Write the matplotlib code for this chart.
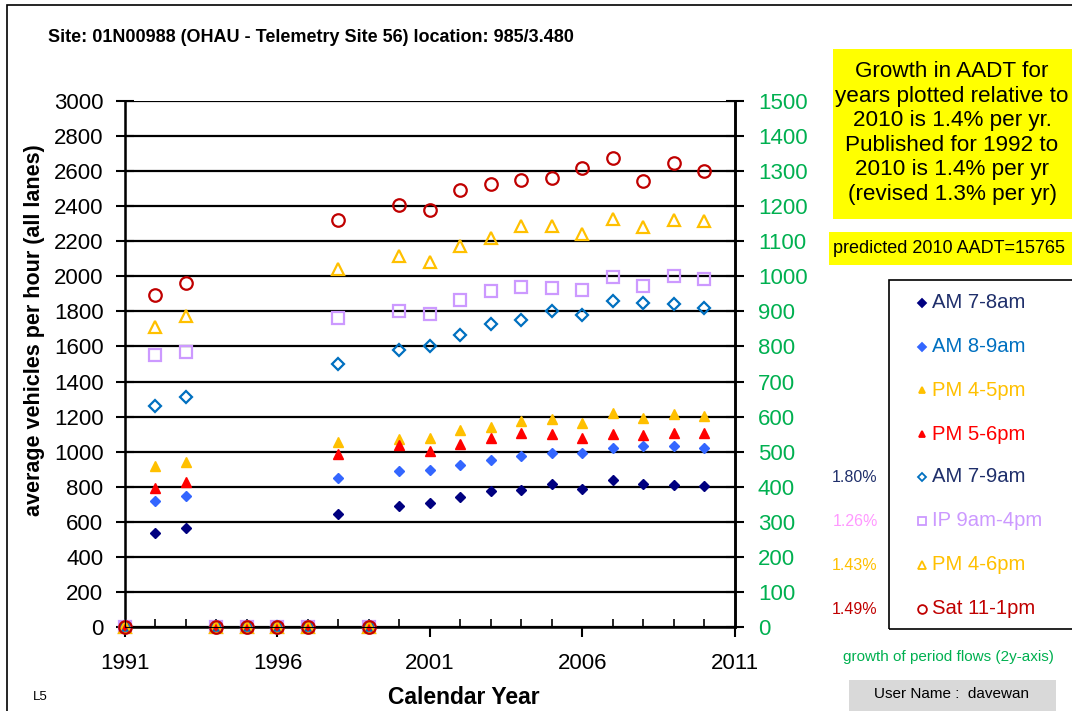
import numpy as np
import matplotlib.pyplot as plt
from matplotlib.patches import Rectangle
from matplotlib.lines import Line2D

plt.rcParams['font.family'] = ['Liberation Sans', 'DejaVu Sans']

# Datos (0 = años sin conteo)
years = [1991, 1992, 1993, 1994, 1995, 1996, 1997, 1998, 1999,
         2000, 2001, 2002, 2003, 2004, 2005, 2006, 2007, 2008, 2009, 2010]
am_7_8 = [0, 537, 565, 0, 0, 0, 0, 644, 0,
          692, 705, 739, 774, 783, 816, 789, 839, 818, 812, 804]
am_8_9 = [0, 720, 747, 0, 0, 0, 0, 852, 0,
          888, 896, 924, 953, 974, 991, 991, 1023, 1031, 1035, 1019]
pm_4_5 = [0, 919, 942, 0, 0, 0, 0, 1053, 0,
          1075, 1077, 1126, 1141, 1176, 1187, 1162, 1222, 1191, 1214, 1204]
pm_5_6 = [0, 791, 827, 0, 0, 0, 0, 986, 0,
          1037, 1004, 1042, 1077, 1109, 1100, 1077, 1103, 1094, 1107, 1109]
am_7_9 = [0, 1261, 1314, 0, 0, 0, 0, 1498, 0,
          1580, 1601, 1664, 1729, 1753, 1805, 1780, 1860, 1847, 1843, 1822]
ip_9_4 = [0, 1549, 1566, 0, 0, 0, 0, 1765, 0,
          1805, 1786, 1866, 1917, 1937, 1931, 1923, 1996, 1944, 1999, 1982]
pm_4_6 = [0, 1713, 1773, 0, 0, 0, 0, 2040, 0,
          2118, 2081, 2171, 2219, 2287, 2287, 2242, 2327, 2284, 2324, 2316]
sat_11_1 = [0, 1893, 1964, 0, 0, 0, 0, 2322, 0,
            2409, 2381, 2493, 2526, 2552, 2562, 2615, 2672, 2543, 2644, 2602]

labels = ['AM 7-8am', 'AM 8-9am', 'PM 4-5pm', 'PM 5-6pm',
          'AM 7-9am', 'IP 9am-4pm', 'PM 4-6pm', 'Sat 11-1pm']
growth = ['', '', '', '', '1.80%', '1.26%', '1.43%', '1.49%']

series = [am_7_8, am_8_9, pm_4_5, pm_5_6, am_7_9, ip_9_4, pm_4_6, sat_11_1]
# (marcador, color, relleno, tamaño, color de texto)
styles = [('D', '#000080', True, 5, '#1F2F6B'),
          ('D', '#3366FF', True, 5, '#0070C0'),
          ('^', '#FFC000', True, 7, '#FFC000'),
          ('^', '#FF0000', True, 7, '#FF0000'),
          ('D', '#0070C0', False, 6.5, '#1F2F6B'),
          ('s', '#CC99FF', False, 9, '#CC99FF'),
          ('^', '#FFC000', False, 9, '#FFC000'),
          ('o', '#C00000', False, 9, '#C00000')]
growth_colors = ['k', 'k', 'k', 'k', '#1F2F6B', '#FF99FF', '#FFC000', '#C00000']

fig = plt.figure(figsize=(10.72, 7.11), dpi=100)
ax = fig.add_axes([0.1166, 0.1181, 0.569, 0.7399])

for ys, (m, c, filled, ms, _) in zip(series, styles):
    ax.plot(years, ys, linestyle='none', marker=m, markersize=ms,
            markerfacecolor=c if filled else 'none', markeredgecolor=c,
            markeredgewidth=1.0 if filled else 1.6, clip_on=False, zorder=3)

ax.set_xlim(1991, 2011)
ax.set_ylim(0, 3000)
ax.set_yticks(np.arange(0, 3001, 200))
ax.set_xticks([1991, 1996, 2001, 2006, 2011])
ax.set_xticks(np.arange(1991, 2012, 1), minor=True)
ax.grid(axis='y', color='black', linewidth=1.6)
ax.tick_params(axis='y', labelsize=16, length=13, width=1.5,
               direction='inout', pad=9)
ax.tick_params(axis='x', which='major', labelsize=16, length=7, width=1.5,
               direction='out', pad=12)
ax.tick_params(axis='x', which='minor', length=6, width=1.2, direction='in')
for s in ['left', 'bottom', 'right']:
    ax.spines[s].set_linewidth(1.8)
ax.spines['top'].set_visible(False)

ax2 = ax.twinx()
ax2.set_ylim(0, 1500)
ax2.set_yticks(np.arange(0, 1501, 100))
ax2.tick_params(axis='y', labelsize=16, colors='black', labelcolor='#00B050',
                length=13, width=1.5, direction='inout', pad=10)
ax2.spines['right'].set_linewidth(1.8)
ax2.spines['top'].set_visible(False)

fig.text(35 / 1072, 1 - 330 / 711, 'average vehicles per hour (all lanes)',
         fontsize=15.5, fontweight='bold', rotation=90, ha='center', va='center')
fig.text(464 / 1072, 1 - 697 / 711, 'Calendar Year', fontsize=16.5,
         fontweight='bold', ha='center', va='center')

# borde del gráfico
fig.patches.append(Rectangle((7 / 1072, -0.1), 1.2, 1 - 5 / 711 + 0.1,
                             transform=fig.transFigure, fill=False,
                             edgecolor='black', linewidth=1.2))

fig.text(48 / 1072, 1 - 38 / 711,
         'Site: 01N00988 (OHAU - Telemetry Site 56) location: 985/3.480',
         fontsize=13, fontweight='bold', va='center', ha='left')

# cajas amarillas
fig.patches.append(Rectangle((833 / 1072, 1 - 219 / 711), 0.3, 170 / 711,
                             transform=fig.transFigure, facecolor='#FFFF00',
                             edgecolor='none'))
fig.text(952 / 1072, 1 - 133 / 711,
         'Growth in AADT for\nyears plotted relative to\n2010 is 1.4% per yr.\n'
         'Published for 1992 to\n2010 is 1.4% per yr\n(revised 1.3% per yr)',
         fontsize=16.2, ha='center', va='center', linespacing=1.22)
fig.patches.append(Rectangle((829 / 1072, 1 - 265 / 711), 0.3, 33 / 711,
                             transform=fig.transFigure, facecolor='#FFFF00',
                             edgecolor='none'))
fig.text(833 / 1072, 1 - 249 / 711, 'predicted 2010 AADT=15765',
         fontsize=13, ha='left', va='center')

# leyenda
fig.patches.append(Rectangle((889 / 1072, 1 - 629 / 711), 0.3, 349 / 711,
                             transform=fig.transFigure, fill=False,
                             edgecolor='black', linewidth=1.2))
leg_y = [303, 347, 390, 434, 477, 521, 565, 609]
for yy, lab, (m, c, filled, ms, tc), g, gc in zip(leg_y, labels, styles,
                                                  growth, growth_colors):
    fy = 1 - yy / 711
    fig.lines.append(Line2D([922 / 1072], [fy], transform=fig.transFigure,
                            marker=m, markersize=ms * 0.7 if not filled else 4.5,
                            markerfacecolor=c if filled else 'none',
                            markeredgecolor=c, markeredgewidth=1.3,
                            linestyle='none'))
    fig.text(932 / 1072, fy, lab, fontsize=14.6, color=tc, ha='left',
             va='center')
    if g:
        fig.text(855 / 1072, fy, g, fontsize=11.5, color=gc, ha='center',
                 va='center')

fig.text(948 / 1072, 1 - 657 / 711, 'growth of period flows (2y-axis)',
         fontsize=11, color='#00B050', ha='center', va='center')
fig.patches.append(Rectangle((849 / 1072, 1 - 711 / 711), 207 / 1072, 31 / 711,
                             transform=fig.transFigure, facecolor='#D9D9D9',
                             edgecolor='none'))
fig.text(952 / 1072, 1 - 694 / 711, 'User Name :  davewan', fontsize=11,
         ha='center', va='center')
fig.text(40 / 1072, 1 - 697 / 711, 'L5', fontsize=9.5, ha='center', va='center')

fig.savefig('out.png', dpi=100)
